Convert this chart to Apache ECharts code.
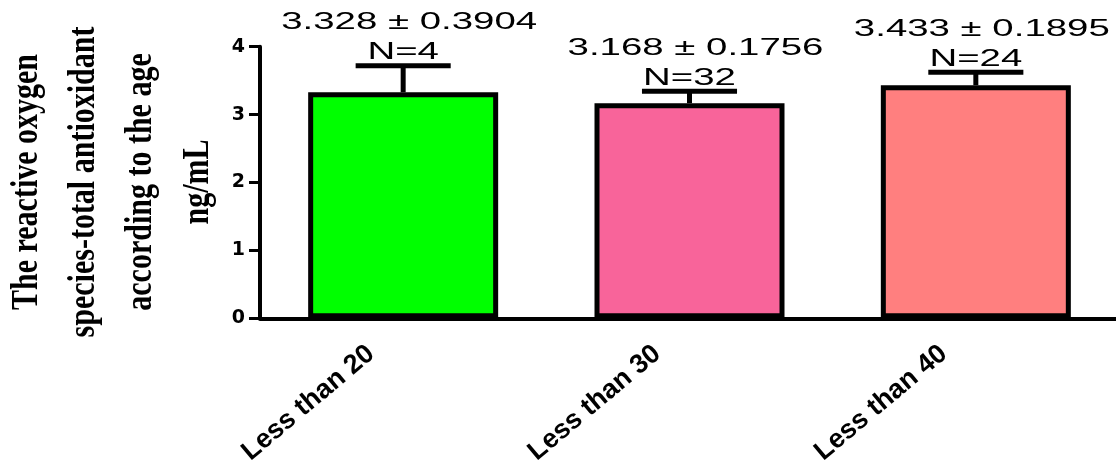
<!DOCTYPE html>
<html><head><meta charset="utf-8">
<script src="https://cdn.jsdelivr.net/npm/echarts@6/dist/echarts.min.js"></script>
<style>html,body{margin:0;padding:0;background:#fff}#c{width:1116px;height:466px}</style>
</head><body><div id="c"></div>
<script>
const categories = ['Less than 20', 'Less than 30', 'Less than 40'];
const means = [3.328, 3.168, 3.433];
const meanLabels = ['3.328', '3.168', '3.433'];
const sems = [0.3904, 0.1756, 0.1895];
const semLabels = ['0.3904', '0.1756', '0.1895'];
const counts = [4, 32, 24];
const barColors = ['#00FF00', '#F8649A', '#FF7F7F'];
const yTickMin = 0, yTickMax = 4, yTickStep = 1;
const yTitle = 'The reactive oxygen\nspecies-total antioxidant\naccording to the age\nng/mL';

const chart = echarts.init(document.getElementById('c'));
const sansFont = '"Liberation Sans", Arial, sans-serif';

function renderErr(params, api) {
  const i = api.value(0), m = api.value(1), e = api.value(2);
  const idx = params.dataIndex;
  const p0 = api.coord([i, m]);
  const p1 = api.coord([i, m + e]);
  const half = api.size([1, 0])[0] * 0.166;
  const font = '24px ' + sansFont;
  return {
    type: 'group',
    children: [
      { type: 'line', shape: { x1: p0[0], y1: p0[1], x2: p1[0], y2: p1[1] }, style: { stroke: '#000', lineWidth: 5 } },
      { type: 'line', shape: { x1: p1[0] - half, y1: p1[1], x2: p1[0] + half, y2: p1[1] }, style: { stroke: '#000', lineWidth: 5 } },
      { type: 'text', x: p1[0], y: p1[1] - 13, scaleX: 1.6,
        style: { text: 'N=' + counts[idx], font: font, fill: '#000', align: 'center', verticalAlign: 'middle' } },
      { type: 'text', x: p1[0] + 6, y: p1[1] - 43, scaleX: 1.6,
        style: { text: meanLabels[idx] + ' \u00b1 ' + semLabels[idx], font: font, fill: '#000', align: 'center', verticalAlign: 'middle' } }
    ]
  };
}

chart.setOption({
  animation: false,
  backgroundColor: '#fff',
  grid: { left: 260, right: -3, top: 46.7, bottom: 147.7, outerBoundsMode: 'none', containLabel: false },
  graphic: [{
    type: 'text', x: 113, y: 182, rotation: Math.PI / 2, scaleY: 1.28,
    style: {
      text: yTitle, fill: '#000', align: 'center', verticalAlign: 'middle',
      font: 'bold 30px "Liberation Serif", "Times New Roman", serif', lineHeight: 44.5
    }
  }],
  xAxis: {
    type: 'category',
    data: categories,
    axisLine: { lineStyle: { color: '#000', width: 4 } },
    axisTick: { alignWithLabel: true, length: 8, lineStyle: { color: '#000', width: 3 } },
    axisLabel: {
      rotate: 40, margin: 5, padding: [0, 42, 0, 0],
      color: '#000', fontFamily: sansFont, fontWeight: 'bold', fontSize: 27, interval: 0
    }
  },
  yAxis: {
    type: 'value', min: yTickMin, max: yTickMax, interval: yTickStep,
    axisLine: { show: true, lineStyle: { color: '#000', width: 4 } },
    axisTick: { show: true, length: 11, lineStyle: { color: '#000', width: 3 } },
    axisLabel: { color: '#000', fontFamily: '"DejaVu Sans", sans-serif', fontWeight: 'bold', fontSize: 19, margin: 15 },
    splitLine: { show: false }
  },
  series: [
    {
      type: 'bar',
      data: means.map((v, i) => ({ value: v, itemStyle: { color: barColors[i] } })),
      barWidth: 190,
      itemStyle: { borderColor: '#000', borderWidth: 5 }
    },
    {
      type: 'custom',
      data: categories.map((c, i) => [i, means[i], sems[i]]),
      renderItem: renderErr,
      z: 5
    }
  ]
});
</script>
</body></html>
